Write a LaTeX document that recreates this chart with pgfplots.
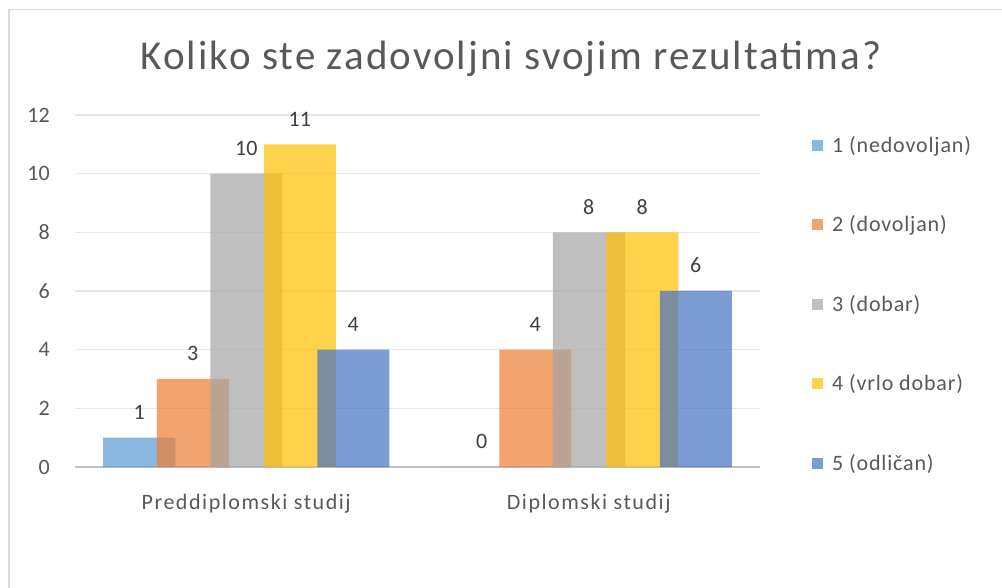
\documentclass[border=0pt]{standalone}
\usepackage{pgfplots}
\pgfplotsset{compat=1.18}
\usepackage{fontspec}
\setmainfont{Carlito}
\definecolor{c1}{HTML}{5B9BD5}
\definecolor{c2}{HTML}{ED7D31}
\definecolor{c3}{HTML}{A5A5A5}
\definecolor{c4}{HTML}{FFC000}
\definecolor{c5}{HTML}{4472C4}
\definecolor{txt}{HTML}{595959}
\definecolor{lbl}{HTML}{404040}
\definecolor{gridc}{HTML}{E6E6E6}
\definecolor{axc}{HTML}{BFBFBF}
\definecolor{border}{HTML}{D9D9D9}
\begin{document}
\begin{tikzpicture}[x=1pt,y=1pt]
\useasboundingbox (0,0) rectangle (1002,587);
\fill[white] (0,0) rectangle (1002,587);
\draw[border, line width=1.3pt] (9,-10) -- (9,577.5) -- (1012,577.5);
\node[anchor=base, text=txt, font=\fontsize{41}{48}\selectfont\addfontfeature{LetterSpace=5}] at (511,517) {Koliko ste zadovoljni svojim rezultatima?};
\begin{axis}[
  at={(75pt,120pt)}, anchor=south west,
  scale only axis, width=685pt, height=352pt,
  xmin=-0.5, xmax=1.5, ymin=0, ymax=12,
  xtick={0,1}, xticklabels={Preddiplomski studij, Diplomski studij},
  ytick={0,2,...,12},
  /pgf/number format/assume math mode=true,
  axis x line=bottom, axis y line=left,
  x axis line style={axc, line width=2.5pt, -},
  y axis line style={draw=none},
  major tick length=0pt,
  ymajorgrids, grid style={gridc, line width=1.2pt},
  tick label style={text=txt, font=\fontsize{22}{26}\selectfont},
  xticklabel style={anchor=base, yshift=-42pt, inner sep=0pt, font=\fontsize{22}{26}\selectfont\addfontfeature{LetterSpace=7}},
  yticklabel style={anchor=east, xshift=-25pt, inner sep=0pt},
  ybar, bar width=72pt,
  every axis plot/.append style={draw=none, fill opacity=0.7},
  nodes near coords,
  nodes near coords style={anchor=base, yshift=18pt, text=lbl, fill opacity=1, text opacity=1, font=\fontsize{22}{26}\selectfont},
  legend cell align=left,
  legend image code/.code={\fill[#1] (0pt,1.5pt) rectangle (11pt,12.5pt);},
  legend style={at={(1.0759,0.9375)}, anchor=north west, draw=none, fill=none,
    inner sep=0pt, row sep=59.5pt, column sep=9pt, text=txt,
    font=\fontsize{22}{26}\selectfont\addfontfeature{LetterSpace=3.8},
    nodes={inner sep=0pt, text height=15pt, text depth=5pt, anchor=base west}},
]
\addplot+[fill=c1, bar shift=-107pt] coordinates {(0,1) (1,0)};
\addplot+[fill=c2, bar shift=-53.5pt] coordinates {(0,3) (1,4)};
\addplot+[fill=c3, bar shift=0pt] coordinates {(0,10) (1,8)};
\addplot+[fill=c4, bar shift=53.5pt] coordinates {(0,11) (1,8)};
\addplot+[fill=c5, bar shift=107pt] coordinates {(0,4) (1,6)};
\legend{1 (nedovoljan), 2 (dovoljan), 3 (dobar), 4 (vrlo dobar), 5 (odličan)}
\end{axis}
\end{tikzpicture}
\end{document}
